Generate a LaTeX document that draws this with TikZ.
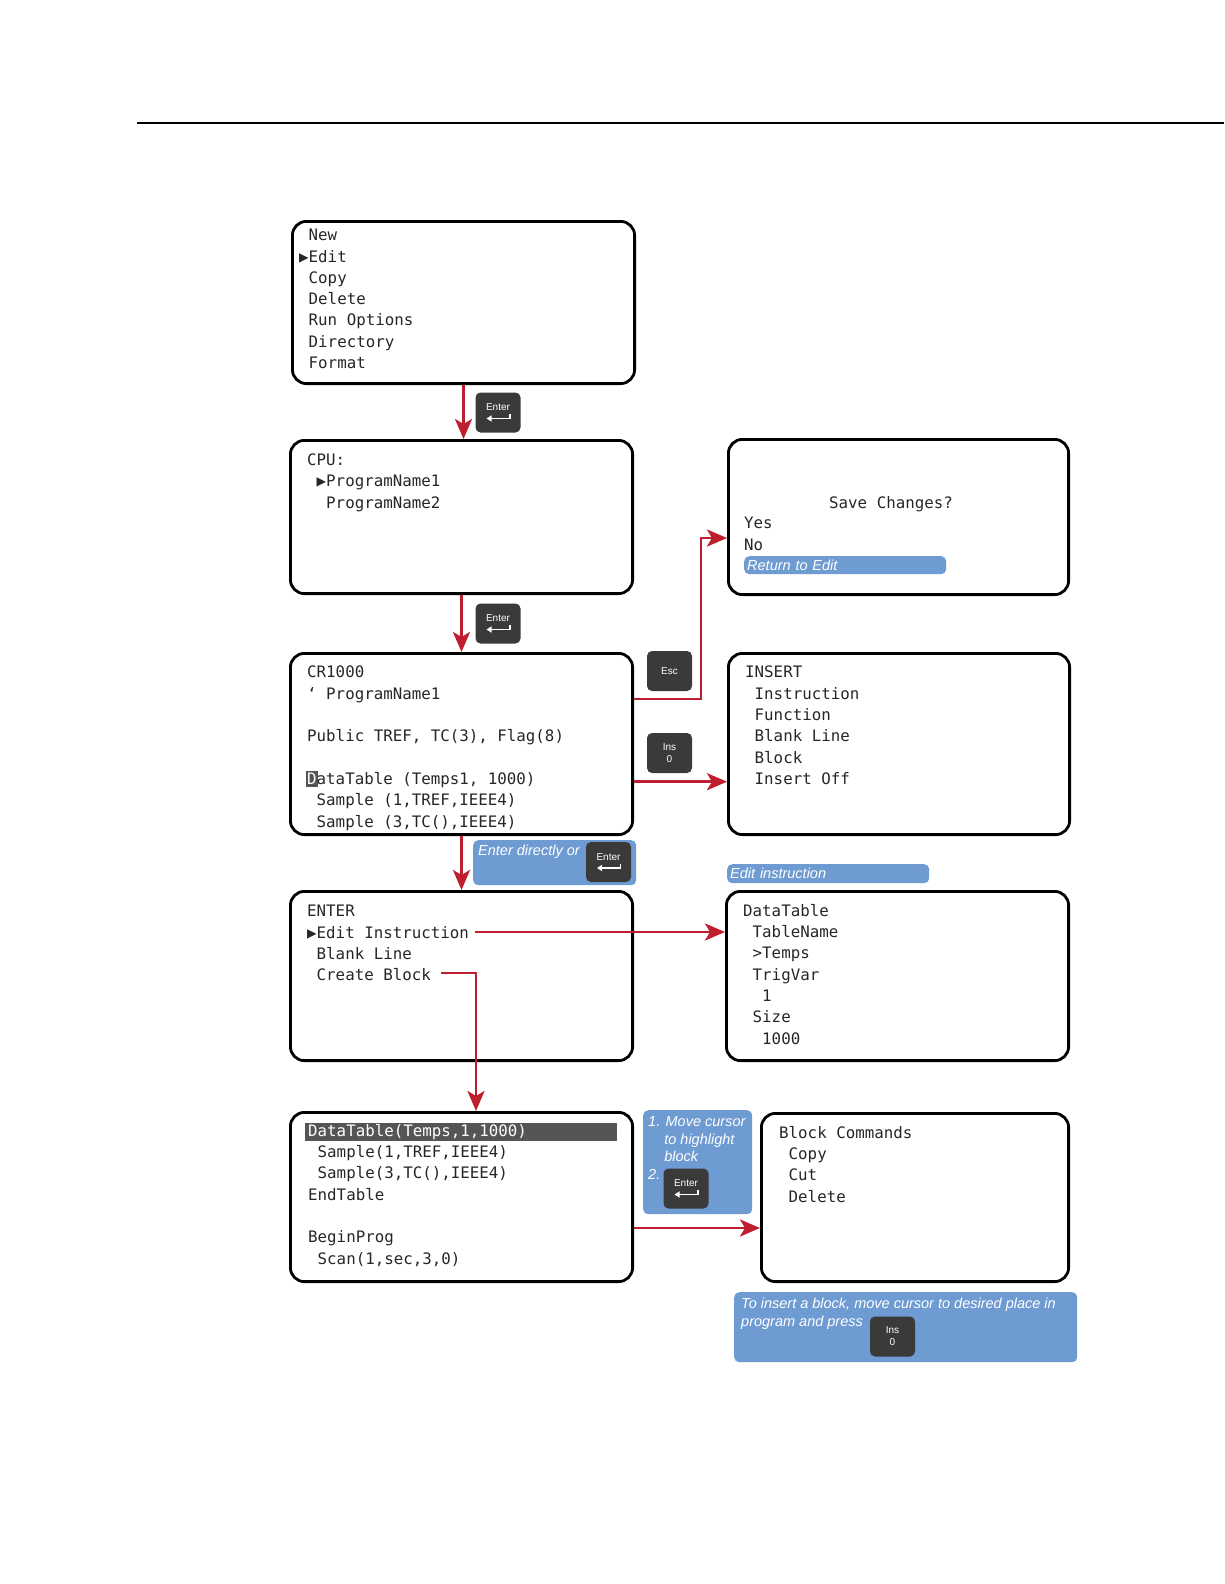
\documentclass[tikz,border=0pt]{standalone}
\usepackage{fontspec}
\setmainfont{Liberation Sans}
\newfontfamily\lcdfont{DejaVu Sans Mono}
\usepackage{xcolor}
\usepackage{tikz}
\usetikzlibrary{arrows.meta,positioning,calc}
\definecolor{flowred}{RGB}{190,30,45}
\definecolor{noteblue}{RGB}{110,155,210}
\definecolor{keygray}{RGB}{58,58,58}
\definecolor{bargray}{RGB}{85,85,85}

\begin{document}
\begin{tikzpicture}[x=1pt, y=-1pt,
  screen/.style={draw=black, line width=2.8pt, rounded corners=14pt, anchor=north west, inner sep=0pt},
  lcd/.style={font=\lcdfont\fontsize{15.8}{21.3}\selectfont, align=left, anchor=north west, inner sep=0pt, text=black!85},
  keycap/.style={fill=keygray, rounded corners=5pt, minimum width=45pt, minimum height=40pt, inner sep=0pt,
    text=white, font=\fontsize{10}{12}\selectfont, align=center},
  keylbl/.style={text=white, font=\fontsize{10}{12}\selectfont, inner sep=0pt},
  enterkey/.style={keycap, label={[keylbl, yshift=5.2pt]center:Enter}},
  retarrow/.style={white, line width=1.4pt, -{Triangle[length=5pt,width=6pt]}},
  note/.style={fill=noteblue, rounded corners=5pt, anchor=north west, inner sep=0pt},
  notetext/.style={text=white, font=\itshape\fontsize{14.5}{17.5}\selectfont, align=left, anchor=north west, inner sep=0pt},
  flow/.style={draw=flowred, line width=2.9pt, -{Stealth[length=20pt,width=17pt,inset=5pt]}}
]
\useasboundingbox (0,0) rectangle (1224,1584);
% page rule
\draw[line width=1.6pt] (137,123) -- (1224,123);

% main menu
\node[screen, minimum width=342.2, minimum height=162.2] (menu) at (291,220) {};
\node[lcd] (menu-txt) at (299,229) {~New\\▶Edit\\~Copy\\~Delete\\~Run Options\\~Directory\\~Format};
% program list
\node[screen, minimum width=342.2, minimum height=153.2] (cpu) at (289,439) {};
\node[lcd] (cpu-txt) at (307,453.5) {CPU:\\~▶ProgramName1\\~~ProgramName2};
% program editor
\node[screen, minimum width=342.2, minimum height=181.2] (prog) at (289,652) {};
\fill[bargray] (306,771) rectangle (317.5,787);
\node[lcd] (prog-txt) at (307,666) {CR1000\\‘ ProgramName1\\~\\Public TREF, TC(3), Flag(8)\\~\\%
  \textcolor{white}{D}ataTable (Temps1, 1000)\\~Sample (1,TREF,IEEE4)\\~Sample (3,TC(),IEEE4)};
% save changes
\node[screen, minimum width=340.2, minimum height=155.2] (save) at (727,438) {};
\node[lcd] (save-title) at (829,496) {Save Changes?};
\node[lcd] (save-opts) at (744,517) {Yes\\No};
\node[note, minimum width=202, minimum height=18, text width=196, align=left, inner xsep=3pt,
  text=white, font=\itshape\fontsize{14.5}{17.5}\selectfont] (ret) at (744,556) {Return to Edit};
% insert menu
\node[screen, minimum width=341.2, minimum height=181.2] (insert) at (727,652) {};
\node[lcd] (insert-txt) at (745,666) {INSERT\\~Instruction\\~Function\\~Blank Line\\~Block\\~Insert Off};
% enter menu
\node[screen, minimum width=342.2, minimum height=169.2] (enter) at (289,890) {};
\node[lcd] (enter-txt) at (307,905) {ENTER\\▶Edit Instruction\\~Blank Line\\~Create Block};
% instruction editor
\node[note, minimum width=202, minimum height=19, text width=196, align=left, inner xsep=3pt,
  text=white, font=\itshape\fontsize{14.5}{17.5}\selectfont] (editlbl) at (727,864) {Edit instruction};
\node[screen, minimum width=342.2, minimum height=169.2] (dtab) at (725,890) {};
\node[lcd] (dtab-txt) at (743,904) {DataTable\\~TableName\\~>Temps\\~TrigVar\\~~1\\~Size\\~~1000};
% code listing
\node[screen, minimum width=342.2, minimum height=169.2] (code) at (289,1111) {};
\fill[bargray] (305,1123) rectangle (617,1141);
\node[lcd] (code-txt) at (308,1124) {\textcolor{white}{DataTable(Temps,1,1000)}\\~Sample(1,TREF,IEEE4)\\%
  ~Sample(3,TC(),IEEE4)\\EndTable\\~\\BeginProg\\~Scan(1,sec,3,0)};
% block commands
\node[screen, minimum width=307.2, minimum height=168.2] (blk) at (760,1112) {};
\node[lcd] (blk-txt) at (779,1126) {Block Commands\\~Copy\\~Cut\\~Delete};

% notes
\node[note, minimum width=163, minimum height=45] (note1) at (473,840) {};
\node[notetext] (note1-txt) at (478,845) {Enter directly or};
\node[note, minimum width=109, minimum height=104] (note2) at (643,1110) {};
\node[notetext] (note2-txt) at (648,1116.5)
  {1. Move cursor\\\hphantom{1.~}to highlight\\\hphantom{1.~}block\\2.};
\node[note, minimum width=343, minimum height=70] (note3) at (734,1292) {};
\node[notetext, font=\itshape\fontsize{14.5}{18}\selectfont] (note3-txt) at (741,1298)
  {To insert a block, move cursor to desired place in\\program and press};

% keys
\node[enterkey] (ent1) at (498,412.5) {};
\node[enterkey] (ent2) at (498,623.5) {};
\node[enterkey] (ent3) at (608.5,862) {};
\node[enterkey] (ent4) at (686,1188.5) {};
\node[keycap] (esc) at (669.5,671) {Esc};
\node[keycap] (ins1) at (669.5,753) {Ins\\0};
\node[keycap] (ins2) at (892.5,1336.5) {Ins\\0};
\foreach \k in {ent1,ent2,ent3,ent4}
  \draw[retarrow] ([shift={(12,1.5)}]\k.center) |- ([shift={(-11.5,6)}]\k.center);

% connectors
\draw[flow] (menu.south) -- (menu.south |- cpu.north);
\draw[flow] (cpu.south) -- (prog.north);
\draw[flow] ([yshift=45pt]prog.east) -- ++(67,0) |- ([yshift=-21pt]save.west);
\draw[flow] ([yshift=-37.7pt]prog.east) -- ([yshift=-37.7pt]insert.west);
\draw[flow] (prog.south) -- (enter.north);
\coordinate (editout) at (475,932);
\draw[flow] (editout) -- (editout -| dtab.west);
\coordinate (blockout) at (441,973);
\draw[flow] (blockout) -| ([xshift=14.5pt]code.north);
\draw[flow] ([yshift=-31pt]code.east) -- ([yshift=-31pt]code.east -| blk.west);
\end{tikzpicture}
\end{document}
